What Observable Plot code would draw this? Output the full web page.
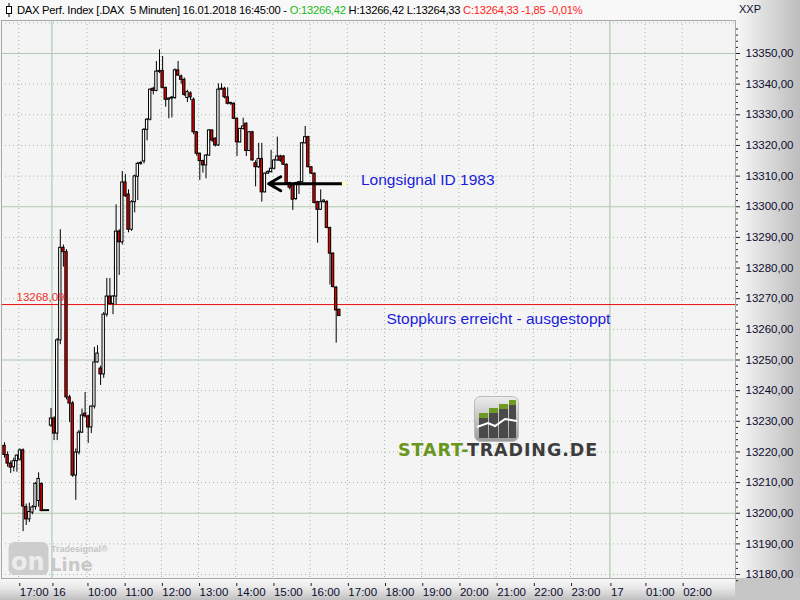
<!DOCTYPE html>
<html><head><meta charset="utf-8">
<script src="https://cdn.jsdelivr.net/npm/d3@7"></script>
<script src="https://cdn.jsdelivr.net/npm/@observablehq/plot@0.6"></script>
<style>
body{margin:0;background:#fff;}
#wrap{position:relative;width:800px;height:600px;overflow:hidden;font-family:"Liberation Sans",Arial,sans-serif;
background:
 linear-gradient(#c6c6c6,#c6c6c6) right bottom/65px 22px no-repeat,
 linear-gradient(to right,#f8f8f8,#bdbdbd) right top/65px 578px no-repeat,
 linear-gradient(to bottom,#fafafa 0%,#e8e8e8 45%,#c0c0c0 100%) left bottom/735px 22px no-repeat,
 #f4f4f4;}
#hdr{position:absolute;left:0;top:0;width:735px;height:20px;background:#f8f8f8;font-size:11.2px;letter-spacing:-0.25px;line-height:20px;white-space:nowrap;color:#000;}
#hdr .txt{position:absolute;left:17px;top:0;}
#xxp{position:absolute;left:739px;top:3px;font-size:11px;color:#101030;}
#chart{position:absolute;left:0;top:20px;}
#st{position:absolute;left:398px;top:440px;font-family:"DejaVu Sans",sans-serif;font-weight:bold;font-size:17.5px;letter-spacing:0.9px;white-space:nowrap;}
#tsl{position:absolute;left:8px;top:540px;}
</style></head>
<body><div id="wrap">
<div id="hdr">
 <svg width="14" height="20" style="position:absolute;left:2px;top:0"><line x1="7" y1="3" x2="7" y2="17" stroke="#000" stroke-width="1"/><rect x="4.5" y="6.5" width="5" height="7" fill="#fff" stroke="#000"/></svg>
 <span class="txt" id="hdrtxt"></span>
</div>
<div id="xxp">XXP</div>
<div id="chart"></div>
<svg id="icon" width="46" height="47" style="position:absolute;left:474px;top:396px">
 <defs><linearGradient id="ig" x1="0" y1="0" x2="0" y2="1"><stop offset="0" stop-color="#ededed"/><stop offset="1" stop-color="#9a9a9a"/></linearGradient></defs>
 <rect x="0.5" y="0.5" width="44" height="45" rx="6" fill="url(#ig)" stroke="#bbb"/>
 <rect x="5" y="22" width="9" height="20" fill="#4a4a4a"/><rect x="5" y="17" width="9" height="5" fill="#6e9a22"/>
 <rect x="15" y="17" width="9" height="25" fill="#4a4a4a"/><rect x="15" y="12" width="9" height="5" fill="#6e9a22"/>
 <rect x="25" y="13" width="9" height="29" fill="#4a4a4a"/><rect x="25" y="8" width="9" height="5" fill="#6e9a22"/>
 <rect x="35" y="9" width="7" height="33" fill="#4a4a4a"/><rect x="35" y="4" width="7" height="5" fill="#6e9a22"/>
 <polyline points="3,31 14,27 21,30 31,23 43,25" fill="none" stroke="#fff" stroke-width="2"/>
</svg>
<div id="st"><span style="color:#6a961e">START-</span><span style="color:#3c3c3c">TRADING.DE</span></div>
<svg id="tsl" width="112" height="36">
 <rect x="0.5" y="2" width="40" height="33" rx="6" fill="#cdcdcd"/>
 <text x="3" y="30" font-family="DejaVu Sans" font-weight="bold" font-size="24" fill="#ececec">on</text>
 <text x="43" y="12" font-family="Liberation Sans" font-weight="bold" font-size="9" fill="#c4c4c4">Tradesignal®</text>
 <text x="42" y="31" font-family="DejaVu Sans" font-weight="bold" font-size="18" fill="#c8c8c8">Line</text>
</svg>
</div>
<script>
// ---- 15.01.2018, 5-minute bars 16:35 .. 17:45
const o15 = [13222, 13219, 13216.2, 13215, 13217, 13217.5, 13220.5, 13202, 13198, 13200.2, 13202, 13204, 13209.6, 13200.7, 13200.7];
const h15 = [13223, 13220, 13217, 13218, 13219, 13221, 13221, 13203, 13203.3, 13202.5, 13210, 13213.2, 13209.8, 13200.7, 13200.7];
const l15 = [13218, 13215, 13213, 13213.5, 13213.4, 13217, 13194, 13196, 13197, 13199.5, 13201, 13202, 13200.5, 13200.7, 13200.7];
const c15 = [13219, 13216.2, 13214.9, 13217, 13218.8, 13220.5, 13202.2, 13198, 13200.4, 13201.9, 13209.6, 13211.2, 13200.7, 13200.7, 13200.7];
// ---- 16.01.2018, 5-minute bars 09:00 .. 16:45
const o16 = [13228.6,13230.9,13226.0,13256.4,13286.6,13285.2,13237.8,13235.8,13212.3,13219.8,
 13226.3,13232.5,13231.6,13228.0,13234.8,13249.2,13247.2,13245.3,13264.8,13270.7,
 13268.3,13270.7,13291.9,13288.4,13307.9,13304.0,13292.5,13301.5,13309.8,13314.0,
 13314.8,13325.1,13328.4,13338.5,13337.8,13344.0,13344.3,13338.8,13334.9,13335.3,
 13335.5,13344.5,13342.5,13341.4,13335.5,13337.0,13334.9,13324.3,13317.3,13314.9,
 13313.5,13316.7,13324.9,13322.2,13320.0,13338.2,13338.5,13335.7,13333.6,13333.6,
 13328.7,13321.0,13325.4,13327.1,13318.2,13324.3,13314.2,13312.9,13315.6,13304.7,
 13310.8,13311.3,13312.4,13315.1,13316.4,13316.4,13313.7,13307.7,13306.9,13302.5,
 13307.7,13308.0,13320.7,13322.7,13312.9,13310.8,13301.5,13299.0,13301.5,13301.5,
 13293.1,13284.7,13273.6,13266.42];
const h16 = [13234.2,13231.5,13257.0,13292.5,13287.5,13286.0,13238.5,13236.5,13221.0,13227.0,
 13234.0,13239.4,13232.0,13235.0,13254.1,13254.7,13248.0,13265.5,13276.6,13276.6,
 13271.0,13300.6,13292.5,13311.5,13310.5,13305.5,13302.0,13310.3,13314.5,13314.8,
 13325.5,13328.8,13338.5,13339.0,13347.4,13351.2,13349.0,13339.0,13335.5,13336.0,
 13345.0,13347.4,13343.0,13342.0,13338.0,13337.5,13335.5,13324.5,13317.5,13315.2,
 13317.0,13325.2,13325.0,13322.5,13340.1,13340.1,13339.0,13338.8,13334.0,13334.0,
 13329.0,13325.6,13328.9,13327.4,13324.6,13324.6,13315.0,13320.7,13320.7,13311.0,
 13311.8,13318.4,13315.5,13322.7,13316.8,13316.7,13314.0,13308.0,13307.2,13308.0,
 13308.3,13321.0,13326.2,13323.0,13313.0,13311.0,13301.8,13305.5,13302.3,13302.0,
 13293.3,13285.0,13274.0,13266.42];
const l16 = [13228.0,13223.7,13223.7,13255.0,13280.3,13237.0,13229.6,13211.7,13204.2,13219.0,
 13226.0,13231.0,13222.8,13226.0,13234.0,13249.0,13241.7,13244.0,13264.0,13268.0,
 13264.8,13268.0,13277.6,13287.5,13303.0,13291.5,13292.0,13298.0,13302.0,13313.5,
 13314.0,13321.5,13328.0,13336.5,13337.5,13343.5,13338.5,13332.5,13328.7,13329.0,
 13335.0,13342.5,13340.0,13336.0,13334.0,13334.7,13323.5,13316.5,13308.6,13311.0,
 13309.1,13316.5,13321.0,13319.5,13319.7,13338.0,13335.2,13333.2,13333.0,13328.5,
 13316.4,13320.8,13325.0,13316.4,13318.0,13314.9,13306.5,13312.5,13301.5,13304.5,
 13310.5,13311.0,13312.0,13314.9,13314.5,13313.5,13307.0,13305.5,13298.8,13302.0,
 13304.0,13307.8,13320.5,13312.7,13310.5,13301.0,13288.1,13298.8,13301.2,13292.8,
 13274.5,13273.5,13255.5,13264.33];
const c16 = [13230.9,13226.0,13256.4,13286.6,13285.2,13237.8,13235.8,13212.3,13219.8,13226.3,
 13231.9,13231.6,13228.0,13234.8,13249.2,13252.1,13245.3,13264.8,13270.7,13268.3,
 13270.7,13291.9,13288.4,13307.9,13303.5,13292.5,13301.5,13309.9,13314.0,13314.2,
 13325.1,13328.4,13338.2,13337.8,13344.1,13344.3,13338.8,13334.9,13335.3,13335.5,
 13344.5,13342.8,13341.4,13336.5,13337.4,13335.7,13324.3,13317.3,13314.9,13313.5,
 13316.7,13324.9,13321.6,13320.0,13338.2,13338.5,13335.7,13333.6,13333.6,13328.7,
 13321.0,13325.4,13326.2,13318.2,13324.3,13315.1,13312.9,13315.6,13304.7,13310.8,
 13311.3,13312.4,13315.1,13316.4,13315.0,13313.7,13307.7,13306.2,13302.3,13307.7,
 13308.0,13320.7,13322.7,13312.9,13310.8,13301.2,13299.0,13301.5,13302.0,13293.1,
 13284.7,13273.8,13266.18,13264.33];

// ---- axis labels
const tickLabels = ["17:00","16","10:00","11:00","12:00","13:00","14:00","15:00","16:00","17:00","18:00","19:00","20:00","21:00","22:00","23:00","17","01:00","02:00"];
const tickDays   = [15,16,16,16,16,16,16,16,16,16,16,16,16,16,16,16,17,17,17];
const tickHours  = [17,9,10,11,12,13,14,15,16,17,18,19,20,21,22,23,0,1,2];
const priceTicks = [13180,13190,13200,13210,13220,13230,13240,13250,13260,13270,13280,13290,13300,13310,13320,13330,13340,13350];

// ---- annotations
const stopLevel = 13268.09;
const signalLevel = 13307.5;
const annLabels = ["Longsignal ID 1983","Stoppkurs erreicht - ausgestoppt"];
const annSlots  = [100, 108.2];
const annPrices = [13308.6, 13263.5];

// time -> bar slot (overnight gap removed; future continuous)
function slotOf(day, h, m) {
  const t = h * 12 + m / 5;
  if (day === 15) return t - 17 * 12 - 10;
  if (day === 16) return t - 9 * 12;
  return (24 - 9) * 12 + t;
}
const bars = [];
o15.forEach((o, i) => { const mm = 16*60 + 35 + 5*i; bars.push({s: slotOf(15, Math.floor(mm/60), mm%60), o, h: h15[i], l: l15[i], c: c15[i]}); });
o16.forEach((o, i) => { const mm = 9*60 + 5*i; bars.push({s: slotOf(16, Math.floor(mm/60), mm%60), o, h: h16[i], l: l16[i], c: c16[i]}); });

const ticks = tickLabels.map((lab, i) => {
  const dayStart = !lab.includes(":");
  return {lab, s: slotOf(tickDays[i], tickHours[i], 0) + (dayStart ? 0.3 : -0.4), dayStart};
});
const fmt = v => d3.format(".2f")(v).replace(".", ",").replace("\u2212", "-");

// header text from data
const n = o16.length - 1, prevC = c16[n-1];
const chg = c16[n] - prevC;
document.getElementById("hdrtxt").innerHTML =
  `DAX Perf. Index [.DAX&nbsp; 5 Minuten] 16.01.2018 16:45:00 - <span style="color:#22b822">O:${fmt(o16[n])}</span> H:${fmt(h16[n])} L:${fmt(l16[n])} <span style="color:#ff1e1e">C:${fmt(c16[n])} ${fmt(chg)} ${fmt(chg/prevC*100)}%</span>`;

const minorLevels = d3.range(13180, 13361, 10).filter(v => v % 50 !== 0);
const majorLevels = d3.range(13200, 13361, 50);
const minorTicks = d3.range(13178, 13361, 2).filter(v => v % 10 !== 0);

const chart = Plot.plot({
  width: 800, height: 580,
  marginTop: 0, marginBottom: 22, marginLeft: 1, marginRight: 65,
  style: {background: "transparent", fontFamily: "Liberation Sans, Arial, sans-serif"},
  x: {domain: [-15.97, 220.81], axis: null, label: null},
  y: {domain: [13178.71, 13360.77], axis: null, label: null},
  marks: [
    Plot.frame({fill: "#f4f4f4"}),
    Plot.ruleY(minorLevels, {stroke: "#9cbc9c", strokeDasharray: "1,3"}),
    Plot.ruleX(ticks.filter(d => !d.dayStart), {x: "s", stroke: "#9cbc9c", strokeDasharray: "1,3"}),
    Plot.ruleY(majorLevels, {stroke: "#b2c8b2", strokeWidth: 1.2}),
    Plot.ruleX(ticks.filter(d => d.dayStart), {x: "s", stroke: "#b2c8b2", strokeWidth: 1.2}),
    Plot.ruleY([stopLevel], {stroke: "#e81010", strokeWidth: 1}),
    Plot.ruleX(bars, {x: "s", y1: "l", y2: "h", stroke: "#000", strokeWidth: 1}),
    Plot.rect(bars, {
      x1: d => d.s - 0.38, x2: d => d.s + 0.38,
      y1: "o", y2: d => Math.abs(d.c - d.o) < 0.3 ? d.o + 0.3 : d.c,
      fill: d => d.c < d.o ? "#e80000" : "#ffffff", stroke: "#000", strokeWidth: 1
    }),
    Plot.text([stopLevel], {y: d => d, frameAnchor: "left", dx: 15, dy: -7, text: d => fmt(d), fill: "#f03030", fontSize: 11.5, textAnchor: "start"}),
    Plot.arrow([signalLevel], {x1: slotOf(16,16,50) + 0.3, x2: slotOf(16,14,50) + 0.2, y1: d => d, y2: d => d, stroke: "#000", strokeWidth: 3, headLength: 7, headAngle: 60, bend: 0}),
    Plot.dot([signalLevel], {x: slotOf(16,16,50) + 0.6, y: d => d, r: 2.5, fill: "#ffffc8", stroke: null}),
    Plot.text(annLabels, {x: (d, i) => annSlots[i], y: (d, i) => annPrices[i], text: d => d, textAnchor: "start", fill: "#1b1bdc", fontSize: 15.5}),
    Plot.frame({stroke: "#a8a8a8"}),
    Plot.axisY({anchor: "right", ticks: minorTicks, tickSize: 2, tickFormat: () => "", stroke: "#202020", label: null}),
    Plot.axisY({anchor: "right", ticks: priceTicks, tickSize: 4, tickPadding: 6, tickFormat: fmt, fontSize: 11.5, fill: "#0c0c30", stroke: "#202020", label: null}),
    Plot.axisX({ticks: ticks.map(d => d.s), tickFormat: (d, i) => ticks[i].lab, tickSize: 8, tickPadding: 1, textAnchor: "start", dx: 1, fontSize: 11.5, fill: "#0c0c30", stroke: "#202020", strokeDasharray: "0,5,3", label: null})
  ]
});
document.getElementById("chart").appendChild(chart);
</script>
</body></html>
